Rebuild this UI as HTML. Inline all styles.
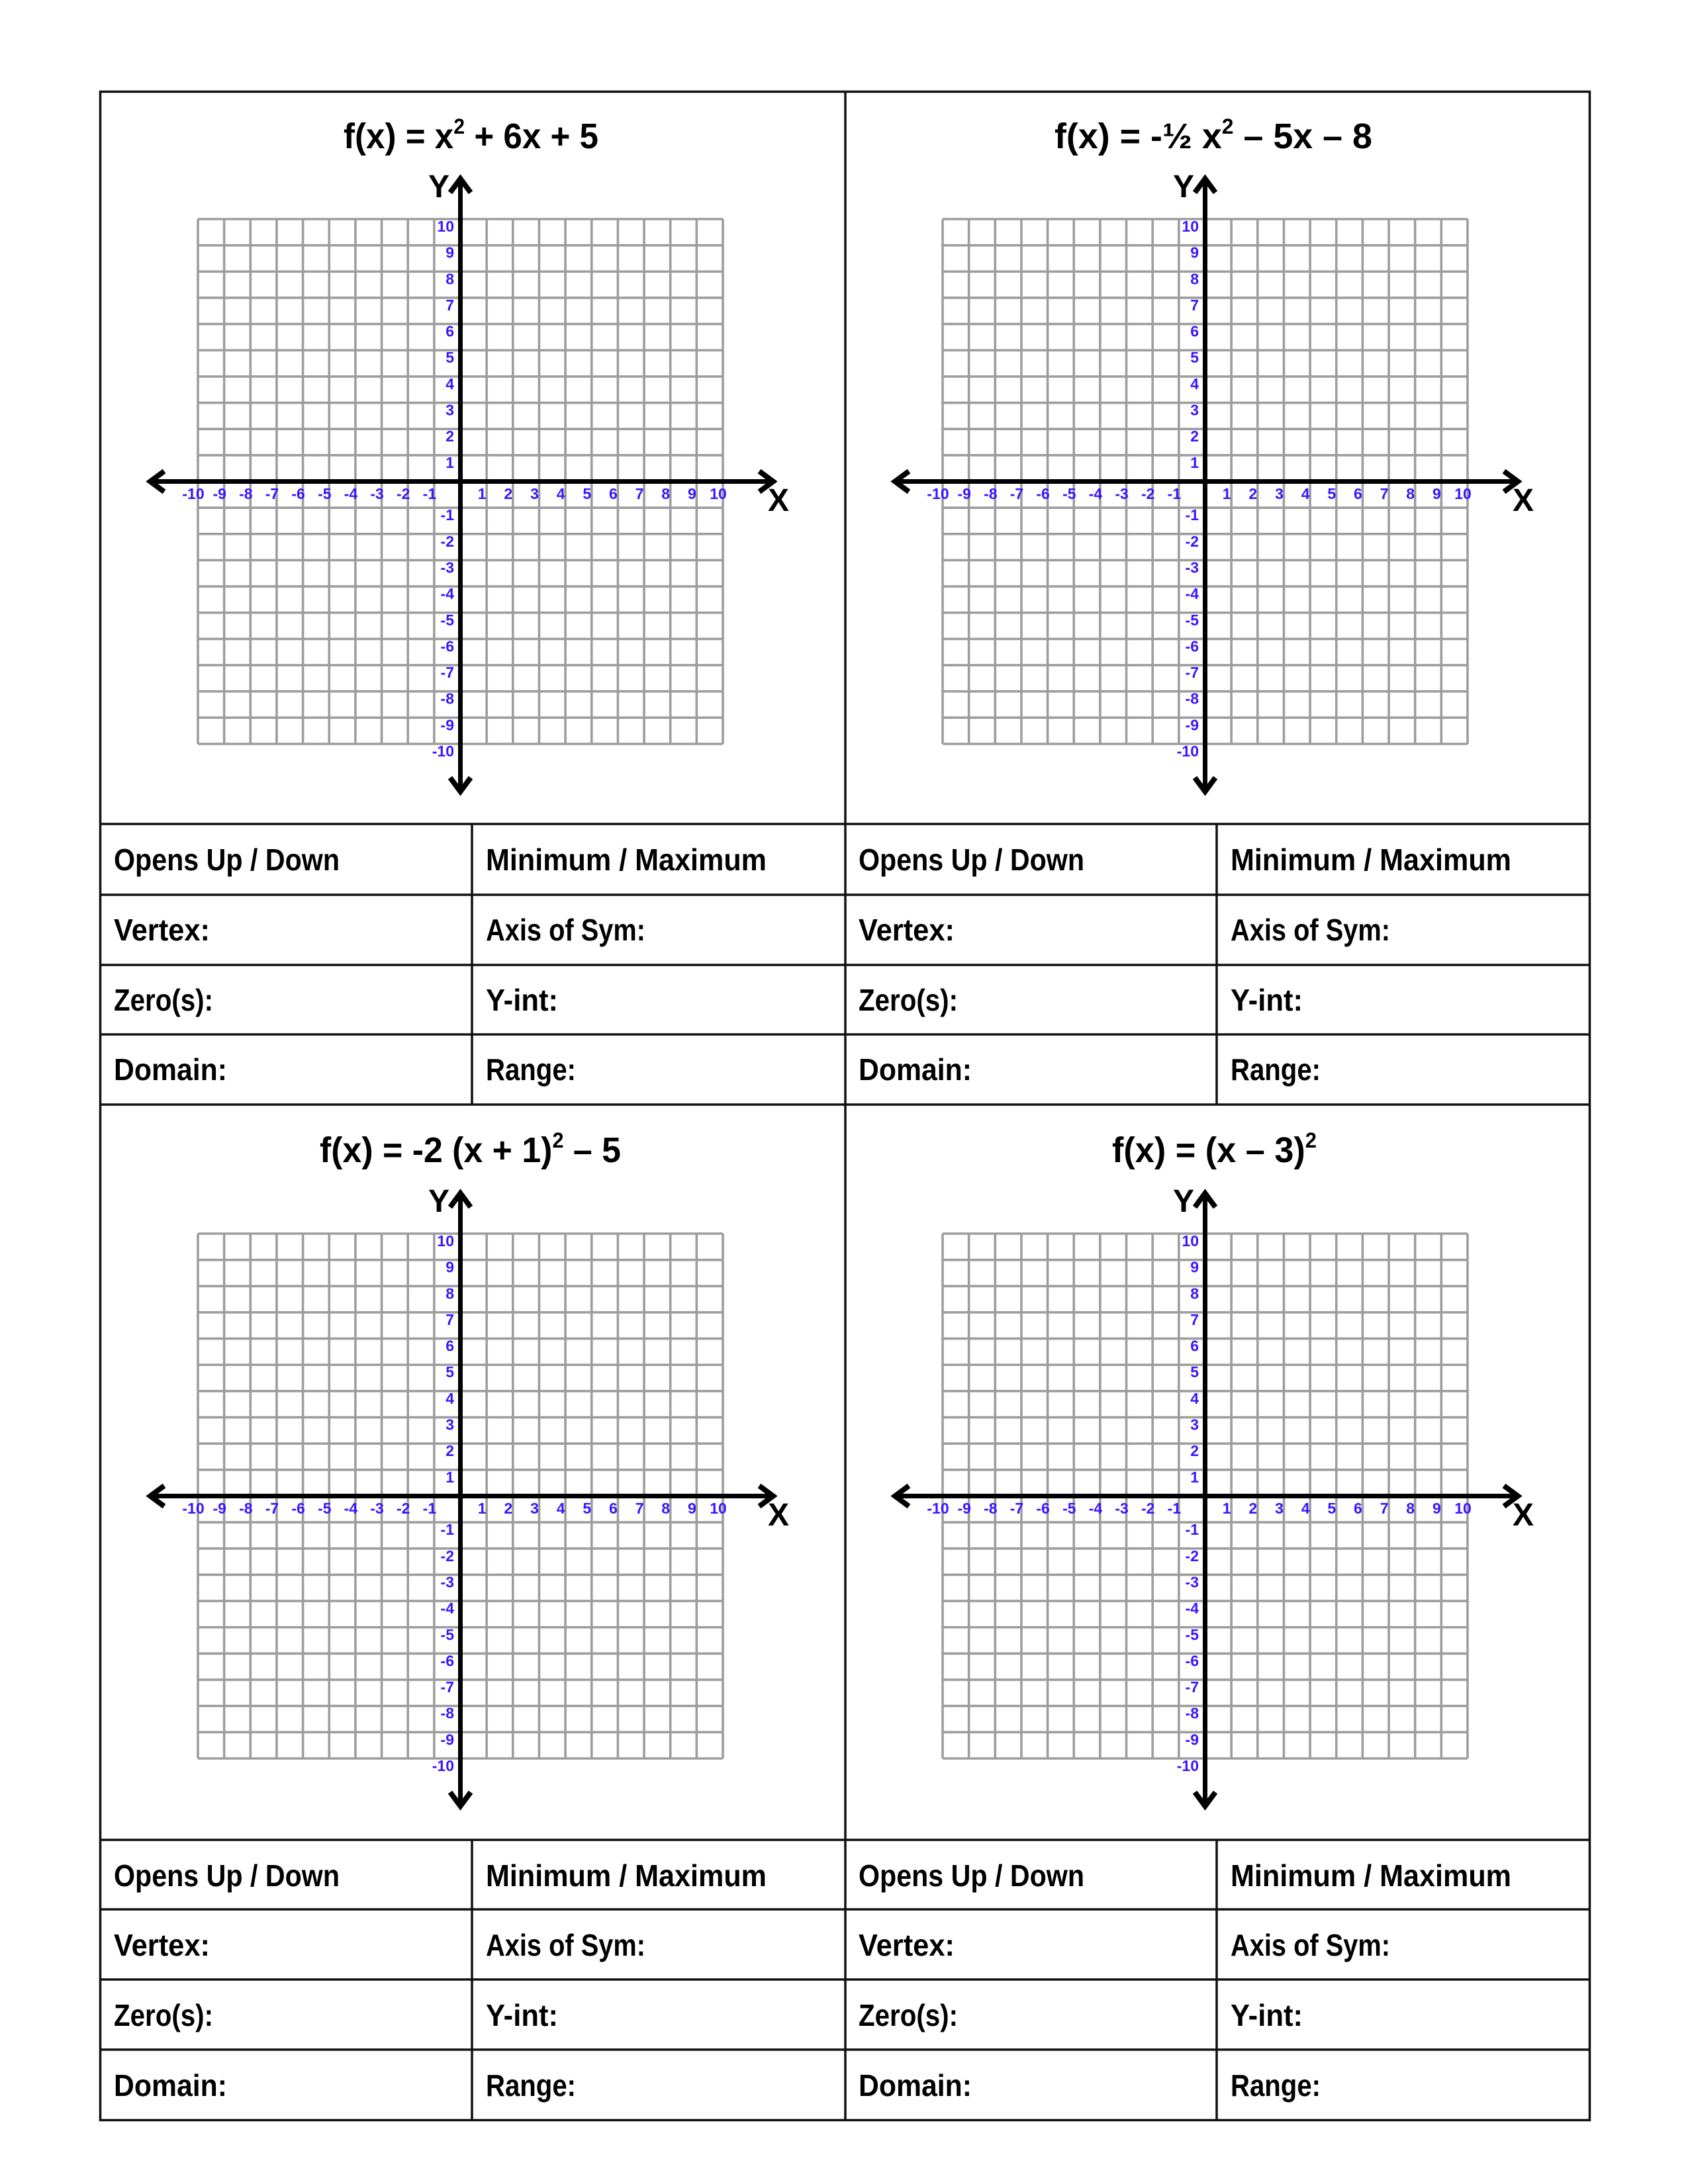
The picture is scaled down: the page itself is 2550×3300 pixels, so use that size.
<!DOCTYPE html>
<html><head><meta charset="utf-8"><style>
html,body{margin:0;padding:0;background:#fff;}
svg{display:block;}
.t{font-family:"Liberation Sans",sans-serif;font-weight:bold;fill:#000;}
.tk{font-family:"Liberation Sans",sans-serif;font-weight:bold;fill:#3a14ff;font-size:23px;}
.lb{font-family:"Liberation Sans",sans-serif;font-weight:bold;fill:#000;font-size:46px;}
.ax{font-family:"Liberation Sans",sans-serif;font-weight:bold;fill:#000;font-size:48px;}
</style></head><body>
<svg width="2550" height="3300" viewBox="0 0 2550 3300" xmlns="http://www.w3.org/2000/svg">
<defs>
<g id="grid">
<path fill="none" stroke="#9d9d9d" stroke-width="3.6" d="M148 193V986M187.65 193V986M227.3 193V986M266.95 193V986M306.6 193V986M346.25 193V986M385.9 193V986M425.55 193V986M465.2 193V986M504.85 193V986M544.5 193V986M584.15 193V986M623.8 193V986M663.45 193V986M703.1 193V986M742.75 193V986M782.4 193V986M822.05 193V986M861.7 193V986M901.35 193V986M941 193V986M148 193H941M148 232.65H941M148 272.3H941M148 311.95H941M148 351.6H941M148 391.25H941M148 430.9H941M148 470.55H941M148 510.2H941M148 549.85H941M148 589.5H941M148 629.15H941M148 668.8H941M148 708.45H941M148 748.1H941M148 787.75H941M148 827.4H941M148 867.05H941M148 906.7H941M148 946.35H941M148 986H941"/>
<line x1="78" y1="589.5" x2="1015" y2="589.5" stroke="#000" stroke-width="7"/>
<line x1="544.5" y1="137" x2="544.5" y2="1055" stroke="#000" stroke-width="7"/>
<polyline points="97,574 76,589.5 97,605" fill="none" stroke="#000" stroke-width="8"/>
<polyline points="996,574 1017,589.5 996,605" fill="none" stroke="#000" stroke-width="8"/>
<polyline points="529,153 544.5,132 560,153" fill="none" stroke="#000" stroke-width="8"/>
<polyline points="529,1037 544.5,1058 560,1037" fill="none" stroke="#000" stroke-width="8"/>
<text class="ax" x="528" y="160" text-anchor="end">Y</text>
<text class="ax" x="1009" y="634">X</text>
<g class="tk" text-anchor="middle">
<text x="141" y="616">-10</text><text x="180.7" y="616">-9</text><text x="220.3" y="616">-8</text><text x="260" y="616">-7</text><text x="299.6" y="616">-6</text><text x="339.3" y="616">-5</text><text x="378.9" y="616">-4</text><text x="418.6" y="616">-3</text><text x="458.2" y="616">-2</text><text x="497.9" y="616">-1</text><text x="577.2" y="616">1</text><text x="616.8" y="616">2</text><text x="656.5" y="616">3</text><text x="696.1" y="616">4</text><text x="735.8" y="616">5</text><text x="775.4" y="616">6</text><text x="815.1" y="616">7</text><text x="854.7" y="616">8</text><text x="894.4" y="616">9</text><text x="934" y="616">10</text>
</g>
<g class="tk" text-anchor="end">
<text x="535" y="212">10</text><text x="535" y="251.6">9</text><text x="535" y="291.3">8</text><text x="535" y="330.9">7</text><text x="535" y="370.6">6</text><text x="535" y="410.2">5</text><text x="535" y="449.9">4</text><text x="535" y="489.5">3</text><text x="535" y="529.2">2</text><text x="535" y="568.9">1</text><text x="535" y="648.2">-1</text><text x="535" y="687.8">-2</text><text x="535" y="727.5">-3</text><text x="535" y="767.1">-4</text><text x="535" y="806.8">-5</text><text x="535" y="846.4">-6</text><text x="535" y="886.1">-7</text><text x="535" y="925.7">-8</text><text x="535" y="965.4">-9</text><text x="535" y="1005">-10</text>
</g>
</g>
</defs>

<rect x="151.5" y="138.5" width="2250" height="3065" fill="none" stroke="#111" stroke-width="3.5"/>
<line x1="1277" y1="138" x2="1277" y2="3204" stroke="#111" stroke-width="3.5"/>
<g stroke="#111" stroke-width="3.5">
<line x1="151" y1="1245" x2="2402" y2="1245"/>
<line x1="151" y1="1352" x2="2402" y2="1352"/>
<line x1="151" y1="1458" x2="2402" y2="1458"/>
<line x1="151" y1="1563" x2="2402" y2="1563"/>
<line x1="151" y1="1669" x2="2402" y2="1669"/>
<line x1="151" y1="2780" x2="2402" y2="2780"/>
<line x1="151" y1="2885" x2="2402" y2="2885"/>
<line x1="151" y1="2991" x2="2402" y2="2991"/>
<line x1="151" y1="3097" x2="2402" y2="3097"/>
<line x1="713" y1="1245" x2="713" y2="1669"/>
<line x1="1838" y1="1245" x2="1838" y2="1669"/>
<line x1="713" y1="2780" x2="713" y2="3204"/>
<line x1="1838" y1="2780" x2="1838" y2="3204"/>
</g>

<use href="#grid" transform="translate(151,138)"/>
<use href="#grid" transform="translate(1276,138)"/>
<use href="#grid" transform="translate(151,1671)"/>
<use href="#grid" transform="translate(1276,1671)"/>

<text class="t" x="519" y="224" font-size="54" textLength="385" lengthAdjust="spacingAndGlyphs">f(x) = x<tspan dy="-22" font-size="32">2</tspan><tspan dy="22"> + 6x + 5</tspan></text>
<text class="t" x="1593" y="224" font-size="54" textLength="480" lengthAdjust="spacingAndGlyphs">f(x) = -½ x<tspan dy="-22" font-size="32">2</tspan><tspan dy="22"> – 5x – 8</tspan></text>
<text class="t" x="483" y="1756" font-size="54" textLength="455" lengthAdjust="spacingAndGlyphs">f(x) = -2 (x + 1)<tspan dy="-22" font-size="32">2</tspan><tspan dy="22"> – 5</tspan></text>
<text class="t" x="1680" y="1756" font-size="54" textLength="309" lengthAdjust="spacingAndGlyphs">f(x) = (x – 3)<tspan dy="-22" font-size="32">2</tspan></text>

<g class="lb">
<text x="172" y="1315" textLength="341" lengthAdjust="spacingAndGlyphs">Opens Up / Down</text>
<text x="734" y="1315" textLength="424" lengthAdjust="spacingAndGlyphs">Minimum / Maximum</text>
<text x="172" y="1421" textLength="145" lengthAdjust="spacingAndGlyphs">Vertex:</text>
<text x="734" y="1421" textLength="241" lengthAdjust="spacingAndGlyphs">Axis of Sym:</text>
<text x="172" y="1527" textLength="150" lengthAdjust="spacingAndGlyphs">Zero(s):</text>
<text x="734" y="1527" textLength="109" lengthAdjust="spacingAndGlyphs">Y-int:</text>
<text x="172" y="1632" textLength="171" lengthAdjust="spacingAndGlyphs">Domain:</text>
<text x="734" y="1632" textLength="136" lengthAdjust="spacingAndGlyphs">Range:</text>

<text x="1297" y="1315" textLength="341" lengthAdjust="spacingAndGlyphs">Opens Up / Down</text>
<text x="1859" y="1315" textLength="424" lengthAdjust="spacingAndGlyphs">Minimum / Maximum</text>
<text x="1297" y="1421" textLength="145" lengthAdjust="spacingAndGlyphs">Vertex:</text>
<text x="1859" y="1421" textLength="241" lengthAdjust="spacingAndGlyphs">Axis of Sym:</text>
<text x="1297" y="1527" textLength="150" lengthAdjust="spacingAndGlyphs">Zero(s):</text>
<text x="1859" y="1527" textLength="109" lengthAdjust="spacingAndGlyphs">Y-int:</text>
<text x="1297" y="1632" textLength="171" lengthAdjust="spacingAndGlyphs">Domain:</text>
<text x="1859" y="1632" textLength="136" lengthAdjust="spacingAndGlyphs">Range:</text>

<text x="172" y="2850" textLength="341" lengthAdjust="spacingAndGlyphs">Opens Up / Down</text>
<text x="734" y="2850" textLength="424" lengthAdjust="spacingAndGlyphs">Minimum / Maximum</text>
<text x="172" y="2955" textLength="145" lengthAdjust="spacingAndGlyphs">Vertex:</text>
<text x="734" y="2955" textLength="241" lengthAdjust="spacingAndGlyphs">Axis of Sym:</text>
<text x="172" y="3061" textLength="150" lengthAdjust="spacingAndGlyphs">Zero(s):</text>
<text x="734" y="3061" textLength="109" lengthAdjust="spacingAndGlyphs">Y-int:</text>
<text x="172" y="3167" textLength="171" lengthAdjust="spacingAndGlyphs">Domain:</text>
<text x="734" y="3167" textLength="136" lengthAdjust="spacingAndGlyphs">Range:</text>

<text x="1297" y="2850" textLength="341" lengthAdjust="spacingAndGlyphs">Opens Up / Down</text>
<text x="1859" y="2850" textLength="424" lengthAdjust="spacingAndGlyphs">Minimum / Maximum</text>
<text x="1297" y="2955" textLength="145" lengthAdjust="spacingAndGlyphs">Vertex:</text>
<text x="1859" y="2955" textLength="241" lengthAdjust="spacingAndGlyphs">Axis of Sym:</text>
<text x="1297" y="3061" textLength="150" lengthAdjust="spacingAndGlyphs">Zero(s):</text>
<text x="1859" y="3061" textLength="109" lengthAdjust="spacingAndGlyphs">Y-int:</text>
<text x="1297" y="3167" textLength="171" lengthAdjust="spacingAndGlyphs">Domain:</text>
<text x="1859" y="3167" textLength="136" lengthAdjust="spacingAndGlyphs">Range:</text>
</g>
</svg>
</body></html>
